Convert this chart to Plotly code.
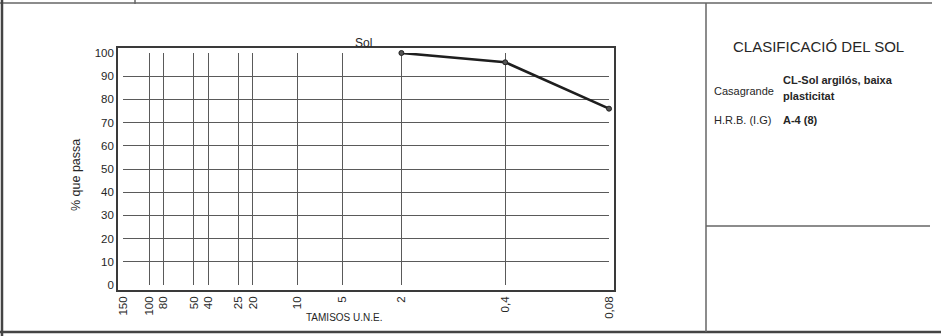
import math
import plotly.graph_objects as go

# Sieve sizes (mm) shown on the grading chart and their labels
sieve_sizes = [150, 100, 80, 50, 40, 25, 20, 10, 5, 2, 0.4, 0.08]
sieve_labels = ["150", "100", "80", "50", "40", "25", "20", "10", "5", "2", "0,4", "0,08"]

# Grading curve of the soil sample: sieve (mm) and % passing
curve_sieves = [2, 0.4, 0.08]
curve_passing = [100, 96, 76]

y_ticks = list(range(0, 101, 10))

W, H = 941, 336
L, R, T, B = 123, 609, 53, 285  # plot area in pixels

FONT = "Liberation Sans, Arial, sans-serif"
INK = "#262626"


def px(x):
    return (x - L) / (R - L)


def py(y):
    return (B - y) / (B - T)


fig = go.Figure()
fig.add_trace(go.Scatter(
    x=curve_sieves, y=curve_passing, mode="lines+markers",
    line=dict(color="#1e1e1e", width=2.6),
    marker=dict(size=5, color="#555555", line=dict(color="#222222", width=1)),
    showlegend=False, cliponaxis=False,
))

fig.update_xaxes(
    type="log",
    range=[math.log10(150), math.log10(0.08)],
    tickvals=sieve_sizes, ticktext=sieve_labels, tickangle=-90,
    tickfont=dict(family=FONT, size=11.5, color=INK),
    showgrid=True, gridcolor="#5a5a5a", gridwidth=1.2,
    showline=True, linecolor="#3a3a3a", linewidth=1.6, mirror=True,
    ticks="", ticklen=0, zeroline=False,
)
fig.update_yaxes(
    range=[0, 100], tickvals=y_ticks,
    tickfont=dict(family=FONT, size=11.5, color=INK),
    showgrid=True, gridcolor="#5a5a5a", gridwidth=1.2,
    showline=True, linecolor="#3a3a3a", linewidth=1.6, mirror=True,
    ticks="", zeroline=False,
)

line_dark = dict(color="#444444", width=2.5)
line_mid = dict(color="#666666", width=1.5)
shapes = [
    dict(type="line", xref="paper", yref="paper", x0=px(0), x1=px(932), y0=py(3), y1=py(3), line=line_mid),
    dict(type="line", xref="paper", yref="paper", x0=px(135), x1=px(135), y0=py(0), y1=py(4), line=line_mid),
    dict(type="line", xref="paper", yref="paper", x0=px(2), x1=px(2), y0=py(0), y1=py(336), line=line_dark),
    dict(type="line", xref="paper", yref="paper", x0=px(0), x1=px(941), y0=py(332), y1=py(332), line=line_dark),
    dict(type="line", xref="paper", yref="paper", x0=px(706), x1=px(706), y0=py(3), y1=py(332), line=line_mid),
    dict(type="line", xref="paper", yref="paper", x0=px(706), x1=px(930), y0=py(226), y1=py(226), line=line_mid),
]


def note(text, x, y, size=11, anchor="left", bold=False, angle=0):
    return dict(
        text=f"<b>{text}</b>" if bold else text,
        xref="paper", yref="paper", x=px(x), y=py(y),
        xanchor=anchor, yanchor="middle", showarrow=False, textangle=angle,
        font=dict(family=FONT, size=size, color=INK),
    )


annotations = [
    note("Sol", 363, 43, size=12, anchor="center"),
    note("% que passa", 76, 175, size=12.5, anchor="center", angle=-90),
    note("TAMISOS U.N.E.", 344, 317, size=10, anchor="center"),
    note("CLASIFICACIÓ DEL SOL", 818, 47, size=15, anchor="center"),
    note("Casagrande", 712, 91, size=11),
    note("CL-Sol argilós, baixa", 781, 80, size=11, bold=True),
    note("plasticitat", 781, 96, size=11, bold=True),
    note("H.R.B. (I.G)", 712, 120, size=11),
    note("A-4 (8)", 781, 120, size=11, bold=True),
]

fig.update_layout(
    width=W, height=H,
    margin=dict(l=L, r=W - R, t=T, b=H - B, pad=5),
    paper_bgcolor="white", plot_bgcolor="white",
    shapes=shapes, annotations=annotations,
    font=dict(family=FONT, color=INK),
)

fig.write_html("out.html")
